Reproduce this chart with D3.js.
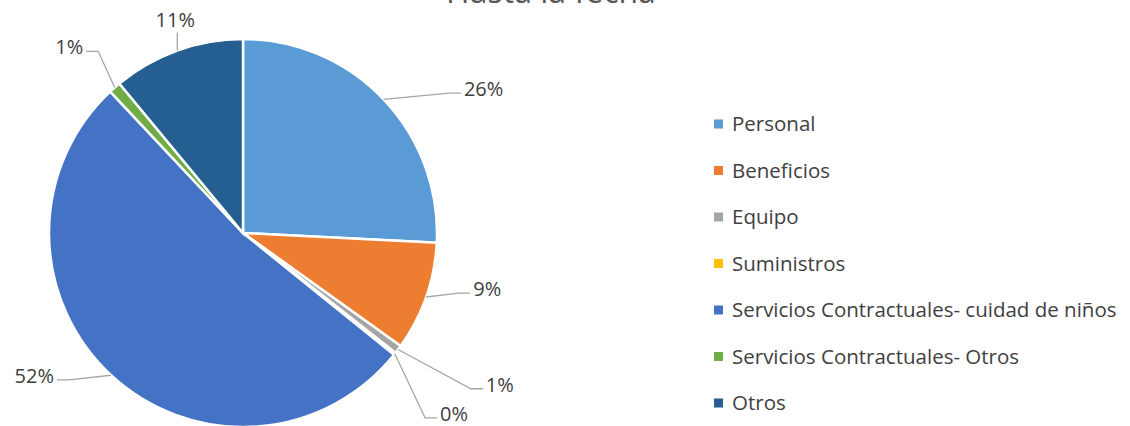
<!DOCTYPE html>
<html>
<head>
<meta charset="utf-8">
<script src="https://cdn.jsdelivr.net/npm/d3@7/dist/d3.min.js"></script>
<style>
body { margin: 0; background: #fff; }
text { font-family: "Open Sans", sans-serif; fill: #404040; }
</style>
</head>
<body>
<div id="chart"></div>
<script>
const categories = ["Personal", "Beneficios", "Equipo", "Suministros",
  "Servicios Contractuales- cuidad de niños", "Servicios Contractuales- Otros", "Otros"];
const values = [25.8, 9.1, 0.7, 0.2, 52.2, 1.0, 11.0];
const pctLabels = ["26%", "9%", "1%", "0%", "52%", "1%", "11%"];
const colors = ["#5b9bd5", "#ed7d31", "#a5a5a5", "#ffc000", "#4472c4", "#70ad47", "#255e91"];
// where each leader line ends: angle (deg, clockwise from 12 o'clock) and distance from centre
const labelAngle = [57.3, 104.8, 123, 133.6, 231.7, 319.2, 341.8];
const labelDist = [259, 235, 286, 268, 237, 240, 211];
const labelSide = ["right", "right", "right", "right", "left", "left", "top"];

const W = 1130, H = 426;
const cx = 243, cy = 233, r = 194;

const svg = d3.select("#chart").append("svg")
  .attr("width", W).attr("height", H);

// title, mostly cut off at the top
svg.append("text")
  .attr("x", 551).attr("y", 3)
  .attr("text-anchor", "middle")
  .style("font-size", "32px")
  .style("fill", "#595959")
  .text("Hasta la fecha");

const pie = d3.pie().sort(null).value(d => d)(values);
const arc = d3.arc().innerRadius(0).outerRadius(r);

const g = svg.append("g").attr("transform", "translate(" + cx + "," + cy + ")");

g.selectAll("path.slice")
  .data(pie)
  .enter()
  .append("path")
  .attr("class", "slice")
  .attr("d", arc)
  .attr("fill", (d, i) => colors[i])
  .attr("stroke", "#fff")
  .attr("stroke-width", 2.5);

const polar = (deg, dist) => {
  const a = deg * Math.PI / 180;
  return [dist * Math.sin(a), -dist * Math.cos(a)];
};

pie.forEach((d, i) => {
  const mid = (d.startAngle + d.endAngle) / 2 * 180 / Math.PI;
  const start = polar(mid, r);
  const end = polar(labelAngle[i], labelDist[i]);
  let pts, tx, ty, anchor;
  if (labelSide[i] == "right") {
    pts = [start, [end[0] - 12, end[1]], end];
    tx = end[0] + 3; ty = end[1] + 3; anchor = "start";
  } else if (labelSide[i] == "left") {
    pts = [start, [end[0] + 12, end[1]], end];
    tx = end[0] - 3; ty = end[1] + 3; anchor = "end";
  } else {
    pts = [start, [start[0], end[1]]];
    tx = start[0] - 2; ty = end[1] - 6; anchor = "middle";
  }
  g.append("path")
    .attr("d", d3.line()(pts))
    .attr("fill", "none")
    .attr("stroke", "#a6a6a6")
    .attr("stroke-width", 1.3);
  g.append("text")
    .attr("x", tx).attr("y", ty)
    .attr("text-anchor", anchor)
    .style("font-size", "20px")
    .text(pctLabels[i]);
});

// legend
const legend = svg.append("g").attr("transform", "translate(714,124)");
const row = legend.selectAll("g")
  .data(categories)
  .enter()
  .append("g")
  .attr("transform", (d, i) => "translate(0," + (i * 46.5) + ")");

row.append("rect")
  .attr("x", 0).attr("y", -4.5)
  .attr("width", 9).attr("height", 9)
  .attr("fill", (d, i) => colors[i]);

row.append("text")
  .attr("x", 18).attr("y", 7)
  .style("font-size", "20.5px")
  .text(d => d);
</script>
</body>
</html>
